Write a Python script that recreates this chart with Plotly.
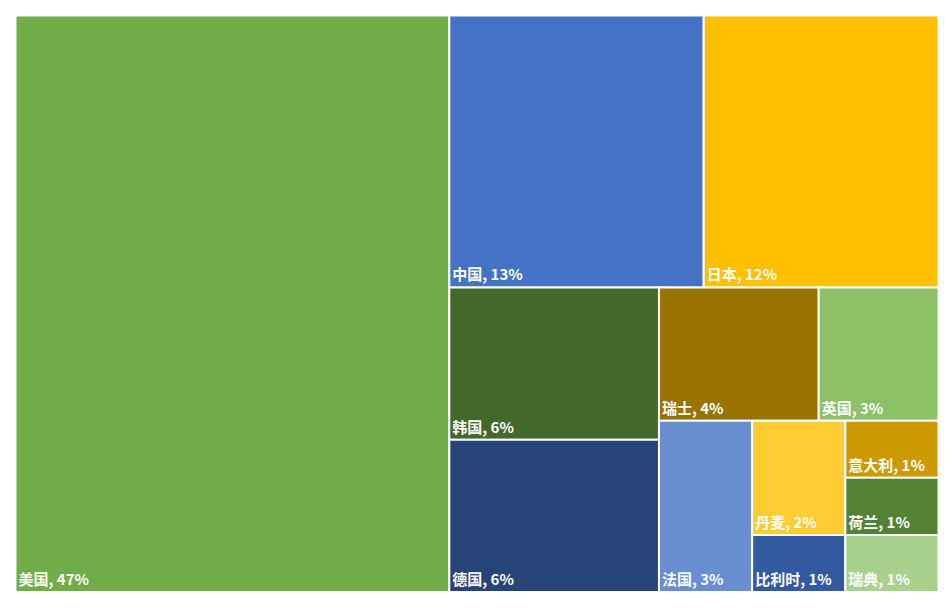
import plotly.graph_objects as go

labels = ["美国", "中国", "日本", "韩国", "德国", "瑞士", "英国", "法国", "丹麦", "比利时", "意大利", "荷兰", "瑞典"]
values = [47, 13, 12, 6, 6, 4, 3, 3, 2, 1, 1, 1, 1]
colors = ["#70AD47", "#4472C4", "#FFC000", "#43682B", "#264478", "#997300", "#8CC168",
          "#698ED0", "#FFCD33", "#335AA1", "#CC9A00", "#548235", "#A9D18E"]

fig = go.Figure(go.Treemap(
    labels=labels,
    parents=[""] * len(labels),
    values=values,
    sort=True,
    marker=dict(colors=colors, line=dict(color="white", width=2)),
    texttemplate="<b>%{label}, %{value}%</b>",
    textposition="bottom left",
    textfont=dict(family="Noto Sans CJK SC", size=15, color="white"),
    tiling=dict(packing="squarify", pad=0),
    pathbar=dict(visible=False),
    hoverinfo="label+value",
))

fig.update_layout(
    width=952, height=614,
    margin=dict(l=0, r=14, t=0, b=0),
    paper_bgcolor="white",
    uniformtext=dict(minsize=10),
)

fig.write_html("out.html")
